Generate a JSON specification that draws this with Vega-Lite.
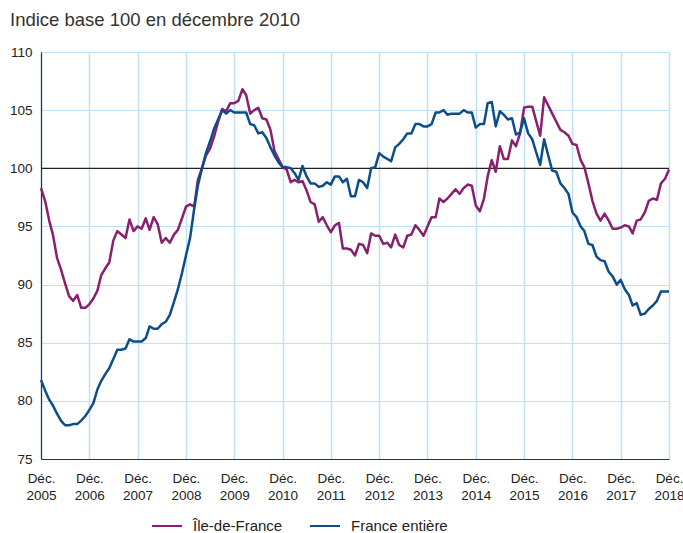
{
 "$schema": "https://vega.github.io/schema/vega-lite/v6.json",
 "width": 628,
 "height": 407,
 "autosize": {"type": "none"},
 "padding": {"left": 41, "top": 52, "right": 14, "bottom": 74},
 "background": "white",
 "config": {"font": "Liberation Sans", "view": {"stroke": null}},
 "title": {"text": "Indice base 100 en décembre 2010", "anchor": "start", "frame": "group", "dx": -31, "offset": 16, "fontSize": 18.5, "fontWeight": "normal", "color": "#333", "font": "Liberation Sans"},
 "layer": [
  {
   "data": {"values": [{"v": 100}]},
   "mark": {"type": "rule", "color": "#222", "strokeWidth": 1.2},
   "encoding": {"y": {"field": "v", "type": "quantitative", "title": null, "scale": {"domain": [75, 110], "zero": false}}}
  },
  {
   "data": {
    "format": {"parse": {"d": "utc:'%Y-%m'"}},
    "values": [
     {"d":"2005-12","idf":98.3,"fr":81.8},
     {"d":"2006-01","idf":97.2,"fr":80.9},
     {"d":"2006-02","idf":95.5,"fr":80.1},
     {"d":"2006-03","idf":94.3,"fr":79.6},
     {"d":"2006-04","idf":92.3,"fr":78.9},
     {"d":"2006-05","idf":91.3,"fr":78.3},
     {"d":"2006-06","idf":90.1,"fr":77.9},
     {"d":"2006-07","idf":89.0,"fr":77.9},
     {"d":"2006-08","idf":88.6,"fr":78.0},
     {"d":"2006-09","idf":89.1,"fr":78.0},
     {"d":"2006-10","idf":88.0,"fr":78.3},
     {"d":"2006-11","idf":88.0,"fr":78.7},
     {"d":"2006-12","idf":88.3,"fr":79.2},
     {"d":"2007-01","idf":88.8,"fr":79.8},
     {"d":"2007-02","idf":89.5,"fr":81.0},
     {"d":"2007-03","idf":90.8,"fr":81.7},
     {"d":"2007-04","idf":91.4,"fr":82.3},
     {"d":"2007-05","idf":91.9,"fr":82.8},
     {"d":"2007-06","idf":93.8,"fr":83.6},
     {"d":"2007-07","idf":94.6,"fr":84.4},
     {"d":"2007-08","idf":94.3,"fr":84.4},
     {"d":"2007-09","idf":94.0,"fr":84.5},
     {"d":"2007-10","idf":95.6,"fr":85.3},
     {"d":"2007-11","idf":94.6,"fr":85.1},
     {"d":"2007-12","idf":95.0,"fr":85.1},
     {"d":"2008-01","idf":94.8,"fr":85.1},
     {"d":"2008-02","idf":95.7,"fr":85.4},
     {"d":"2008-03","idf":94.7,"fr":86.4},
     {"d":"2008-04","idf":95.8,"fr":86.2},
     {"d":"2008-05","idf":95.2,"fr":86.2},
     {"d":"2008-06","idf":93.6,"fr":86.6},
     {"d":"2008-07","idf":94.0,"fr":86.8},
     {"d":"2008-08","idf":93.6,"fr":87.4},
     {"d":"2008-09","idf":94.3,"fr":88.5},
     {"d":"2008-10","idf":94.7,"fr":89.6},
     {"d":"2008-11","idf":95.7,"fr":91.0},
     {"d":"2008-12","idf":96.7,"fr":92.5},
     {"d":"2009-01","idf":96.9,"fr":94.0},
     {"d":"2009-02","idf":96.7,"fr":96.5},
     {"d":"2009-03","idf":99.0,"fr":98.5},
     {"d":"2009-04","idf":100.0,"fr":100.0},
     {"d":"2009-05","idf":101.1,"fr":101.3},
     {"d":"2009-06","idf":101.7,"fr":102.3},
     {"d":"2009-07","idf":102.7,"fr":103.4},
     {"d":"2009-08","idf":104.0,"fr":104.2},
     {"d":"2009-09","idf":105.1,"fr":105.0},
     {"d":"2009-10","idf":104.9,"fr":104.7},
     {"d":"2009-11","idf":105.6,"fr":105.0},
     {"d":"2009-12","idf":105.6,"fr":104.8},
     {"d":"2010-01","idf":105.8,"fr":104.8},
     {"d":"2010-02","idf":106.8,"fr":104.8},
     {"d":"2010-03","idf":106.3,"fr":104.8},
     {"d":"2010-04","idf":104.7,"fr":103.8},
     {"d":"2010-05","idf":105.0,"fr":103.7},
     {"d":"2010-06","idf":105.2,"fr":103.0},
     {"d":"2010-07","idf":104.3,"fr":103.1},
     {"d":"2010-08","idf":104.2,"fr":102.6},
     {"d":"2010-09","idf":103.3,"fr":101.8},
     {"d":"2010-10","idf":101.5,"fr":101.1},
     {"d":"2010-11","idf":100.8,"fr":100.5},
     {"d":"2010-12","idf":100.1,"fr":100.1},
     {"d":"2011-01","idf":99.9,"fr":100.1},
     {"d":"2011-02","idf":98.8,"fr":100.0},
     {"d":"2011-03","idf":99.0,"fr":99.6},
     {"d":"2011-04","idf":98.8,"fr":99.0},
     {"d":"2011-05","idf":98.9,"fr":100.2},
     {"d":"2011-06","idf":98.1,"fr":99.3},
     {"d":"2011-07","idf":97.1,"fr":98.7},
     {"d":"2011-08","idf":96.9,"fr":98.7},
     {"d":"2011-09","idf":95.4,"fr":98.4},
     {"d":"2011-10","idf":95.8,"fr":98.5},
     {"d":"2011-11","idf":95.1,"fr":98.8},
     {"d":"2011-12","idf":94.5,"fr":98.6},
     {"d":"2012-01","idf":95.1,"fr":99.3},
     {"d":"2012-02","idf":95.3,"fr":99.3},
     {"d":"2012-03","idf":93.1,"fr":98.8},
     {"d":"2012-04","idf":93.1,"fr":99.1},
     {"d":"2012-05","idf":93.0,"fr":97.6},
     {"d":"2012-06","idf":92.5,"fr":97.6},
     {"d":"2012-07","idf":93.5,"fr":99.0},
     {"d":"2012-08","idf":93.4,"fr":98.8},
     {"d":"2012-09","idf":92.7,"fr":98.3},
     {"d":"2012-10","idf":94.4,"fr":100.0},
     {"d":"2012-11","idf":94.2,"fr":100.1},
     {"d":"2012-12","idf":94.2,"fr":101.3},
     {"d":"2013-01","idf":93.5,"fr":101.0},
     {"d":"2013-02","idf":93.6,"fr":100.8},
     {"d":"2013-03","idf":93.2,"fr":100.6},
     {"d":"2013-04","idf":94.3,"fr":101.8},
     {"d":"2013-05","idf":93.4,"fr":102.1},
     {"d":"2013-06","idf":93.2,"fr":102.5},
     {"d":"2013-07","idf":94.2,"fr":103.0},
     {"d":"2013-08","idf":94.3,"fr":103.0},
     {"d":"2013-09","idf":95.1,"fr":103.8},
     {"d":"2013-10","idf":94.7,"fr":103.8},
     {"d":"2013-11","idf":94.2,"fr":103.6},
     {"d":"2013-12","idf":95.0,"fr":103.6},
     {"d":"2014-01","idf":95.8,"fr":103.8},
     {"d":"2014-02","idf":95.8,"fr":104.8},
     {"d":"2014-03","idf":97.4,"fr":104.8},
     {"d":"2014-04","idf":97.1,"fr":105.0},
     {"d":"2014-05","idf":97.4,"fr":104.6},
     {"d":"2014-06","idf":97.8,"fr":104.7},
     {"d":"2014-07","idf":98.2,"fr":104.7},
     {"d":"2014-08","idf":97.8,"fr":104.7},
     {"d":"2014-09","idf":98.3,"fr":105.0},
     {"d":"2014-10","idf":98.6,"fr":104.8},
     {"d":"2014-11","idf":98.5,"fr":104.8},
     {"d":"2014-12","idf":96.8,"fr":103.5},
     {"d":"2015-01","idf":96.3,"fr":103.8},
     {"d":"2015-02","idf":97.4,"fr":103.8},
     {"d":"2015-03","idf":99.3,"fr":105.6},
     {"d":"2015-04","idf":100.7,"fr":105.7},
     {"d":"2015-05","idf":99.7,"fr":103.6},
     {"d":"2015-06","idf":101.9,"fr":104.9},
     {"d":"2015-07","idf":100.8,"fr":104.6},
     {"d":"2015-08","idf":100.8,"fr":104.2},
     {"d":"2015-09","idf":102.4,"fr":104.3},
     {"d":"2015-10","idf":101.9,"fr":102.9},
     {"d":"2015-11","idf":103.0,"fr":103.1},
     {"d":"2015-12","idf":105.2,"fr":104.3},
     {"d":"2016-01","idf":105.3,"fr":103.0},
     {"d":"2016-02","idf":105.3,"fr":102.5},
     {"d":"2016-03","idf":104.1,"fr":101.4},
     {"d":"2016-04","idf":102.8,"fr":100.3},
     {"d":"2016-05","idf":106.1,"fr":102.5},
     {"d":"2016-06","idf":105.4,"fr":101.1},
     {"d":"2016-07","idf":104.7,"fr":99.8},
     {"d":"2016-08","idf":104.0,"fr":99.7},
     {"d":"2016-09","idf":103.3,"fr":98.7},
     {"d":"2016-10","idf":103.1,"fr":98.3},
     {"d":"2016-11","idf":102.8,"fr":97.8},
     {"d":"2016-12","idf":102.1,"fr":96.2},
     {"d":"2017-01","idf":102.0,"fr":95.8},
     {"d":"2017-02","idf":100.7,"fr":95.0},
     {"d":"2017-03","idf":100.1,"fr":94.6},
     {"d":"2017-04","idf":98.7,"fr":93.5},
     {"d":"2017-05","idf":97.2,"fr":93.4},
     {"d":"2017-06","idf":96.1,"fr":92.4},
     {"d":"2017-07","idf":95.5,"fr":92.1},
     {"d":"2017-08","idf":96.1,"fr":92.0},
     {"d":"2017-09","idf":95.5,"fr":91.1},
     {"d":"2017-10","idf":94.8,"fr":90.7},
     {"d":"2017-11","idf":94.8,"fr":90.0},
     {"d":"2017-12","idf":94.9,"fr":90.4},
     {"d":"2018-01","idf":95.1,"fr":89.6},
     {"d":"2018-02","idf":95.0,"fr":89.1},
     {"d":"2018-03","idf":94.4,"fr":88.2},
     {"d":"2018-04","idf":95.5,"fr":88.4},
     {"d":"2018-05","idf":95.6,"fr":87.4},
     {"d":"2018-06","idf":96.2,"fr":87.5},
     {"d":"2018-07","idf":97.2,"fr":87.9},
     {"d":"2018-08","idf":97.4,"fr":88.2},
     {"d":"2018-09","idf":97.3,"fr":88.6},
     {"d":"2018-10","idf":98.7,"fr":89.4},
     {"d":"2018-11","idf":99.1,"fr":89.4},
     {"d":"2018-12","idf":99.9,"fr":89.4}
    ]
   },
   "transform": [{"fold": ["idf", "fr"], "as": ["serie", "val"]}],
   "mark": {"type": "line", "strokeWidth": 2.5, "strokeJoin": "round"},
   "encoding": {
    "x": {
     "field": "d", "type": "temporal",
     "scale": {"type": "utc", "domain": [{"year": 2005, "month": 12, "date": 1, "utc": true}, {"year": 2018, "month": 12, "date": 1, "utc": true}]},
     "axis": {
      "title": null,
      "values": [
       {"year": 2005, "month": 12, "date": 1, "utc": true},
       {"year": 2006, "month": 12, "date": 1, "utc": true},
       {"year": 2007, "month": 12, "date": 1, "utc": true},
       {"year": 2008, "month": 12, "date": 1, "utc": true},
       {"year": 2009, "month": 12, "date": 1, "utc": true},
       {"year": 2010, "month": 12, "date": 1, "utc": true},
       {"year": 2011, "month": 12, "date": 1, "utc": true},
       {"year": 2012, "month": 12, "date": 1, "utc": true},
       {"year": 2013, "month": 12, "date": 1, "utc": true},
       {"year": 2014, "month": 12, "date": 1, "utc": true},
       {"year": 2015, "month": 12, "date": 1, "utc": true},
       {"year": 2016, "month": 12, "date": 1, "utc": true},
       {"year": 2017, "month": 12, "date": 1, "utc": true},
       {"year": 2018, "month": 12, "date": 1, "utc": true}
      ],
      "labelExpr": "['Déc.', utcFormat(datum.value, '%Y')]",
      "grid": true, "gridColor": "#bfe0f5", "gridWidth": 1.5,
      "ticks": false,
      "domainColor": "#333", "domainWidth": 1.2,
      "labelFontSize": 13.5, "labelColor": "#222", "labelPadding": 12, "labelLineHeight": 17,
      "labelOverlap": false, "labelFlush": false
     }
    },
    "y": {
     "field": "val", "type": "quantitative",
     "scale": {"domain": [75, 110], "zero": false},
     "axis": {
      "title": null,
      "values": [75, 80, 85, 90, 95, 100, 105, 110],
      "grid": true, "gridColor": "#bfe0f5", "gridWidth": 1.2,
      "ticks": false,
      "domainColor": "#333", "domainWidth": 1.2,
      "labelFontSize": 13.5, "labelColor": "#222", "labelPadding": 9
     }
    },
    "color": {
     "field": "serie", "type": "nominal",
     "scale": {"domain": ["idf", "fr"], "range": ["#8a1f6d", "#0c4d8a"]},
     "legend": {
      "title": null, "orient": "none", "legendX": 110, "legendY": 458,
      "direction": "horizontal", "symbolType": "stroke", "symbolSize": 900, "symbolStrokeWidth": 2,
      "labelFontSize": 15, "labelColor": "#222", "labelOffset": 10, "columnPadding": 23, "padding": 0,
      "labelExpr": "datum.value == 'idf' ? 'Île-de-France' : 'France entière'"
     }
    }
   }
  }
 ]
}
